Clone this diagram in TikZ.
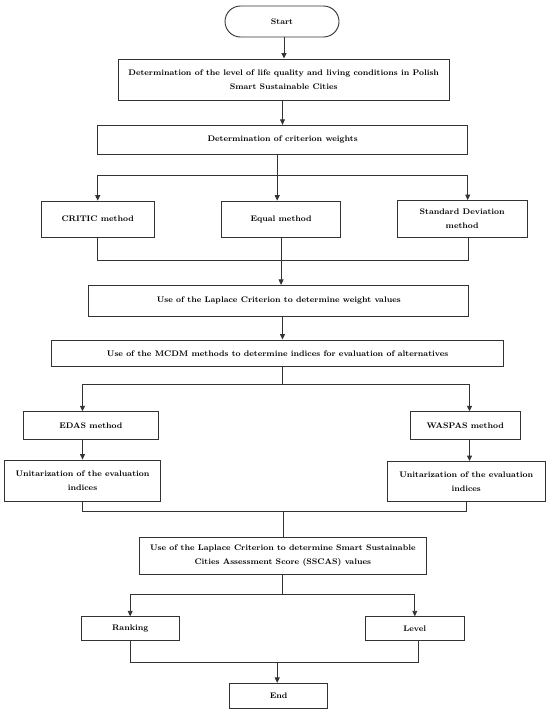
\documentclass[tikz,border=0pt]{standalone}
\usetikzlibrary{arrows.meta,calc}
\begin{document}
\begin{tikzpicture}[x=1pt,y=-1pt,
  line/.style={draw=black!80,line width=0.9pt},
  arr/.style={line,-{Triangle[length=5.5pt,width=5pt]}},
  box/.style={draw=black!80,line width=0.9pt,rectangle,inner sep=0pt,align=center,
    font=\fontsize{8.1}{13.5}\selectfont\bfseries,text=black},
  term/.style={box,rounded corners=15.5pt}]
\fill[white] (0,0) rectangle (550,715);
\useasboundingbox (0,0) rectangle (550,715);

\node[term,minimum width=114pt,minimum height=31pt] (start) at (282,21.5) {Start};
\node[box,minimum width=331.5pt,minimum height=41.5pt] (b1) at (283.7,79.7)
  {Determination of the level of life quality and living conditions in Polish\\Smart Sustainable Cities};
\node[box,minimum width=370pt,minimum height=29pt] (b2) at (282.6,139.8) {Determination of criterion weights};
\node[box,minimum width=113.4pt,minimum height=36.3pt] (critic) at (97.7,219.2) {CRITIC method};
\node[box,minimum width=118.6pt,minimum height=36.3pt] (equal) at (281.1,219.2) {Equal method};
\node[box,minimum width=129.5pt,minimum height=36.8pt] (std) at (462.2,218.9) {Standard Deviation\\method};
\node[box,minimum width=380pt,minimum height=30.7pt] (lap1) at (278.8,300.7) {Use of the Laplace Criterion to determine weight values};
\node[box,minimum width=452pt,minimum height=26.7pt] (mcdm) at (277.6,353.3) {Use of the MCDM methods to determine indices for evaluation of alternatives};
\node[box,minimum width=135.4pt,minimum height=27.6pt] (edas) at (90.9,425.5) {EDAS method};
\node[box,minimum width=109.5pt,minimum height=27.6pt] (waspas) at (465.2,425.5) {WASPAS method};
\node[box,minimum width=156.5pt,minimum height=41.7pt] (uni1) at (82.5,480.9) {Unitarization of the evaluation\\indices};
\node[box,minimum width=157.6pt,minimum height=40.2pt] (uni2) at (466.2,481.6) {Unitarization of the evaluation\\indices};
\node[box,minimum width=287pt,minimum height=37pt] (lap2) at (282.8,555.5)
  {Use of the Laplace Criterion to determine Smart Sustainable\\Cities Assessment Score (SSCAS) values};
\node[box,minimum width=97.6pt,minimum height=23.3pt] (ranking) at (130.2,628.4) {Ranking};
\node[box,minimum width=98.3pt,minimum height=23.3pt] (level) at (414.8,628.4) {Level};
\node[box,minimum width=97.6pt,minimum height=25pt] (end) at (278.6,695.8) {End};

% junction points
\coordinate (j1) at (277.2,175);
\coordinate (j2) at (280.7,260);
\coordinate (j3) at (282.5,384);
\coordinate (j4) at (283.5,511.7);
\coordinate (j5) at (282.5,594.3);
\coordinate (j6) at (277.2,662.7);

\draw[arr] ([xshift=2pt]start.south) -- ([xshift=2pt]start.south |- b1.north);
\draw[arr] ([xshift=-1.2pt]b1.south) -- ([xshift=-1.2pt]b1.south |- b2.north);

\draw[line] (b2.south -| j1) -- (j1);
\draw[arr] (j1) -- (j1 |- equal.north);
\draw[arr] (j1) -| (critic.north);
\draw[arr] (j1) -| ([xshift=5.5pt]std.north);

\draw[line] (critic.south) |- ([xshift=6.2pt]std.south |- j2) -- ([xshift=6.2pt]std.south);
\draw[arr] (equal.south) -- (equal.south |- lap1.north);

\draw[arr] ([xshift=3.7pt]lap1.south) -- ([xshift=3.7pt]lap1.south |- mcdm.north);

\draw[line] (mcdm.south -| j3) -- (j3);
\draw[arr] (j3) -| (uni1.north |- edas.north);
\draw[arr] (j3) -| ([xshift=3.3pt]uni2.north |- waspas.north);
\draw[arr] (uni1.north |- edas.south) -- (uni1.north);
\draw[arr] ([xshift=3.3pt]uni2.north |- waspas.south) -- ([xshift=3.3pt]uni2.north);

\draw[line] (uni1.south) |- ([xshift=0.5pt]uni2.south |- j4) -- ([xshift=0.5pt]uni2.south);
\draw[line] (j4) -- (j4 |- lap2.north);

\draw[line] (lap2.south -| j5) -- (j5);
\draw[arr] (j5) -| (ranking.north);
\draw[arr] (j5) -| (level.north);

\draw[line] (ranking.south) |- ([xshift=3.4pt]level.south |- j6) -- ([xshift=3.4pt]level.south);
\draw[arr] (j6) -- (j6 |- end.north);
\end{tikzpicture}
\end{document}
